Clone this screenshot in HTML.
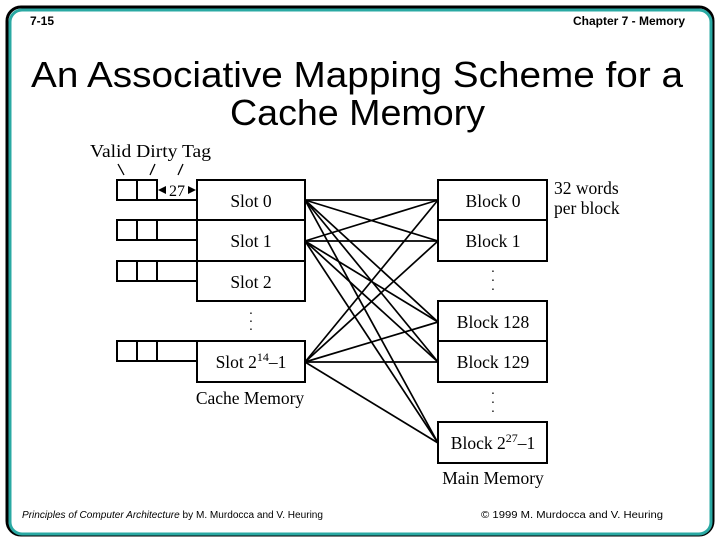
<!DOCTYPE html>
<html><head><style>
body{margin:0;width:720px;height:540px;background:#fff;overflow:hidden}
</style></head><body>
<svg width="720" height="540" xmlns="http://www.w3.org/2000/svg">
<rect x="7" y="7" width="706" height="528" rx="14" fill="none" stroke="#000" stroke-width="3"/>
<rect x="10" y="10" width="701" height="524" rx="12" fill="none" stroke="#2aa9a3" stroke-width="3"/>
<g font-family="Liberation Sans, sans-serif" font-weight="bold" font-size="12">
<text x="30" y="25">7-15</text>
<text x="685" y="25" text-anchor="end">Chapter 7 - Memory</text>
</g>
<g font-family="Liberation Sans, sans-serif" font-size="36">
<text x="31" y="87" textLength="652" lengthAdjust="spacingAndGlyphs">An Associative Mapping Scheme for a</text>
<text x="230" y="125" textLength="255" lengthAdjust="spacingAndGlyphs">Cache Memory</text>
</g>
<g font-family="Liberation Sans, sans-serif" font-size="10">
<text x="22" y="518" textLength="301" lengthAdjust="spacingAndGlyphs"><tspan font-style="italic">Principles of Computer Architecture</tspan> by M. Murdocca and V. Heuring</text>
<text x="481" y="518" textLength="182" lengthAdjust="spacingAndGlyphs">© 1999 M. Murdocca and V. Heuring</text>
</g>
<g fill="none" stroke="#000" stroke-width="2">
<rect x="197" y="180" width="108" height="121"/>
<line x1="197" y1="220" x2="305" y2="220"/>
<line x1="197" y1="261" x2="305" y2="261"/>
<rect x="197" y="341" width="108" height="41"/>
<rect x="117" y="180" width="20" height="20"/><rect x="137" y="180" width="20" height="20"/><line x1="117" y1="200" x2="197" y2="200"/>
<rect x="117" y="220" width="20" height="20"/><rect x="137" y="220" width="20" height="20"/><line x1="157" y1="220" x2="197" y2="220"/><line x1="117" y1="240" x2="197" y2="240"/>
<rect x="117" y="261" width="20" height="20"/><rect x="137" y="261" width="20" height="20"/><line x1="157" y1="261" x2="197" y2="261"/><line x1="117" y1="281" x2="197" y2="281"/>
<rect x="117" y="341" width="20" height="20"/><rect x="137" y="341" width="20" height="20"/><line x1="157" y1="341" x2="197" y2="341"/><line x1="117" y1="361" x2="197" y2="361"/>
<rect x="438" y="180" width="109" height="81"/><line x1="438" y1="220" x2="547" y2="220"/>
<rect x="438" y="301" width="109" height="81"/><line x1="438" y1="341" x2="547" y2="341"/>
<rect x="438" y="422" width="109" height="41"/>
<line x1="118" y1="164" x2="124" y2="175" stroke-width="1.3"/>
<line x1="155" y1="164" x2="150" y2="175" stroke-width="1.3"/>
<line x1="183" y1="164" x2="178" y2="175" stroke-width="1.3"/>
</g>
<g stroke="#000" stroke-width="1.7">
<line x1="305" y1="200" x2="438" y2="200"/><line x1="305" y1="200" x2="438" y2="241"/><line x1="305" y1="200" x2="438" y2="322"/><line x1="305" y1="200" x2="438" y2="362"/><line x1="305" y1="200" x2="438" y2="443"/>
<line x1="305" y1="241" x2="438" y2="200"/><line x1="305" y1="241" x2="438" y2="241"/><line x1="305" y1="241" x2="438" y2="322"/><line x1="305" y1="241" x2="438" y2="362"/><line x1="305" y1="241" x2="438" y2="443"/>
<line x1="305" y1="362" x2="438" y2="200"/><line x1="305" y1="362" x2="438" y2="241"/><line x1="305" y1="362" x2="438" y2="322"/><line x1="305" y1="362" x2="438" y2="362"/><line x1="305" y1="362" x2="438" y2="443"/>
</g>
<g font-family="Liberation Serif, serif" font-size="17.5" text-anchor="middle">
<text x="251" y="207">Slot 0</text>
<text x="251" y="247">Slot 1</text>
<text x="251" y="288">Slot 2</text>
<text x="251" y="368">Slot 2<tspan font-size="12" dy="-7">14</tspan><tspan dy="7">–1</tspan></text>
<text x="250" y="404">Cache Memory</text>
<text x="493" y="207">Block 0</text>
<text x="493" y="247">Block 1</text>
<text x="493" y="328">Block 128</text>
<text x="493" y="368">Block 129</text>
<text x="493" y="449">Block 2<tspan font-size="12" dy="-7">27</tspan><tspan dy="7">–1</tspan></text>
<text x="493" y="484">Main Memory</text>
<text x="90" y="157" text-anchor="start" textLength="121" lengthAdjust="spacingAndGlyphs">Valid Dirty Tag</text>
<text x="177" y="196" font-size="16">27</text>
<text x="554" y="194" text-anchor="start">32 words</text>
<text x="554" y="214" text-anchor="start">per block</text>
<text x="251" y="318" font-size="14">·</text><text x="251" y="326" font-size="14">·</text><text x="251" y="334" font-size="14">·</text>
<text x="493" y="276" font-size="14">·</text><text x="493" y="285" font-size="14">·</text><text x="493" y="294" font-size="14">·</text>
<text x="493" y="398" font-size="14">·</text><text x="493" y="407" font-size="14">·</text><text x="493" y="416" font-size="14">·</text>
</g>
<g fill="#000">
<polygon points="158,190 166,186 166,194"/>
<polygon points="196,190 188,186 188,194"/>
</g>
</svg>
</body></html>
